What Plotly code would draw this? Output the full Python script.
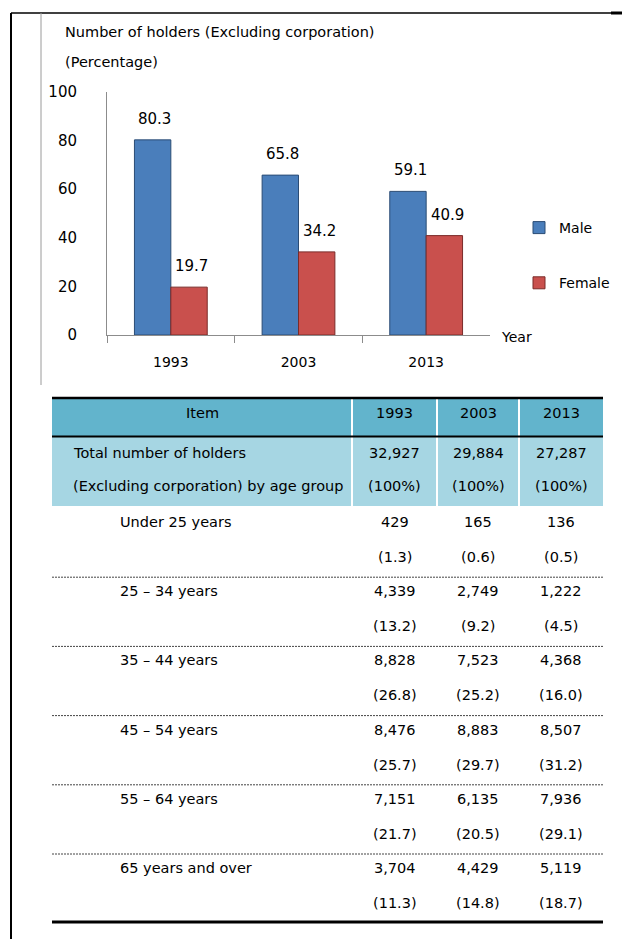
import plotly.graph_objects as go

W, H = 630, 939
OFF = 8  # page body margin the figure sits inside

# chart data
years = ["1993", "2003", "2013"]
male = [80.3, 65.8, 59.1]
female = [19.7, 34.2, 40.9]

# table data
table_years = ["1993", "2003", "2013"]
totals = [32927, 29884, 27287]
age_groups = ["Under 25 years", "25 – 34 years", "35 – 44 years",
              "45 – 54 years", "55 – 64 years", "65 years and over"]
counts_1993 = [429, 4339, 8828, 8476, 7151, 3704]
counts_2003 = [165, 2749, 7523, 8883, 6135, 4429]
counts_2013 = [136, 1222, 4368, 8507, 7936, 5119]
pct_1993 = [1.3, 13.2, 26.8, 25.7, 21.7, 11.3]
pct_2003 = [0.6, 9.2, 25.2, 29.7, 20.5, 14.8]
pct_2013 = [0.5, 4.5, 16.0, 31.2, 29.1, 18.7]

FONT = "DejaVu Sans"
TS = 14.5  # table / caption font size


def px_x(x):
    return (x - OFF) / W


def px_y(y):
    return 1 - (y - OFF) / H


fig = go.Figure()

fig.add_trace(go.Bar(x=years, y=male, name="Male", legendgroup="m",
                     marker=dict(color="#4A7EBB", line=dict(color="#2B4C74", width=1))))
fig.add_trace(go.Bar(x=years, y=female, name="Female", legendgroup="f",
                     marker=dict(color="#C9504D", line=dict(color="#7A2B29", width=1))))

annotations = []
# value labels over the bars (x given as category index)
for i, (m, f) in enumerate(zip(male, female)):
    annotations.append(dict(x=i, y=m, xref="x", yref="y", text=f"{m:.1f}", showarrow=False,
                            xshift=-16, yshift=21, font=dict(size=15, color="black", family=FONT)))
    annotations.append(dict(x=i, y=f, xref="x", yref="y", text=f"{f:.1f}", showarrow=False,
                            xshift=21, yshift=21, font=dict(size=15, color="black", family=FONT)))


def text(x, y, s, size=TS, anchor="center"):
    annotations.append(dict(x=px_x(x), y=px_y(y), xref="paper", yref="paper", text=s,
                            showarrow=False, xanchor=anchor, yanchor="middle",
                            font=dict(size=size, color="black", family=FONT)))


text(63, 32, "Number of holders (Excluding corporation)", TS, "left")
text(63, 62, "(Percentage)", TS, "left")
text(499, 337, "Year", 14, "left")

# table geometry
left, right = 52, 603
cols = [352, 437, 519]
col_centers = [(cols[0] + cols[1]) / 2, (cols[1] + cols[2]) / 2, (cols[2] + right) / 2]

shapes = []


def line(x0, y0, x1, y1, color="black", width=1, dash="solid"):
    shapes.append(dict(type="line", xref="paper", yref="paper",
                       x0=px_x(x0), y0=px_y(y0), x1=px_x(x1), y1=px_y(y1),
                       line=dict(color=color, width=width, dash=dash)))


def rect(x0, y0, x1, y1, color):
    shapes.append(dict(type="rect", xref="paper", yref="paper", layer="below",
                       x0=px_x(x0), y0=px_y(y0), x1=px_x(x1), y1=px_y(y1),
                       fillcolor=color, line=dict(width=0)))


# page frame
line(11, 13, 11, 947, width=2)
line(11, 13, 611, 13, width=1.5)
line(611, 13, 638, 13, width=3)
line(41, 13, 41, 385, color="#9A9A9A", width=1)

# header + total row
rect(left, 398, right, 436, "#62B4CC")
rect(left, 436, right, 506, "#A6D6E3")
for c in cols:
    line(c, 399, c, 506, color="white", width=2)
line(left, 398, right, 398, width=2.5)
line(left, 436.5, right, 436.5, width=2)

text((left + cols[0]) / 2, 413, "Item")
for cx, yr, tot in zip(col_centers, table_years, totals):
    text(cx, 413, yr)
    text(cx, 453, f"{tot:,}")
    text(cx, 486, "(100%)")
text(71, 453, "Total number of holders", TS, "left")
text(71, 486, "(Excluding corporation) by age group", TS, "left")

row_top, row_h = 508, 69.2
for i, age in enumerate(age_groups):
    top = row_top + i * row_h
    text(118, top + 14, age, TS, "left")
    for cx, cnt, pct in zip(col_centers,
                            [counts_1993[i], counts_2003[i], counts_2013[i]],
                            [pct_1993[i], pct_2003[i], pct_2013[i]]):
        text(cx, top + 14, f"{cnt:,}")
        text(cx, top + 49, f"({pct:.1f})")
    if i < len(age_groups) - 1:
        line(left, top + row_h, right, top + row_h, color="#444444", width=1, dash="2px,1px")
line(left, 922, right, 922, width=3)

fig.update_layout(
    width=W, height=H,
    margin=dict(l=0, r=0, t=0, b=0, autoexpand=False),
    paper_bgcolor="white", plot_bgcolor="white",
    barmode="group", bargap=0.43, bargroupgap=0,
    font=dict(family=FONT, color="black"),
    xaxis=dict(domain=[px_x(107), px_x(490)], type="category", range=[-0.5, 2.5],
               automargin=False, tickangle=0,
               showline=True, linecolor="#8C8C8C", linewidth=1,
               ticks="outside", tickson="boundaries", ticklen=7, tickcolor="#8C8C8C",
               ticklabelstandoff=14, tickfont=dict(size=14, color="black"),
               showgrid=False, zeroline=False),
    yaxis=dict(domain=[px_y(335), px_y(92)], range=[0, 100], dtick=20, automargin=False,
               showline=True, linecolor="#8C8C8C", linewidth=1,
               ticks="", ticklabelstandoff=26, tickfont=dict(size=15, color="black"),
               showgrid=False, zeroline=False),
    legend=dict(x=px_x(519), y=px_y(212), xanchor="left", yanchor="top",
                font=dict(size=14, color="black"), tracegroupgap=34,
                traceorder="grouped", bgcolor="rgba(0,0,0,0)"),
    annotations=annotations,
    shapes=shapes,
)

fig.write_html("out.html")
